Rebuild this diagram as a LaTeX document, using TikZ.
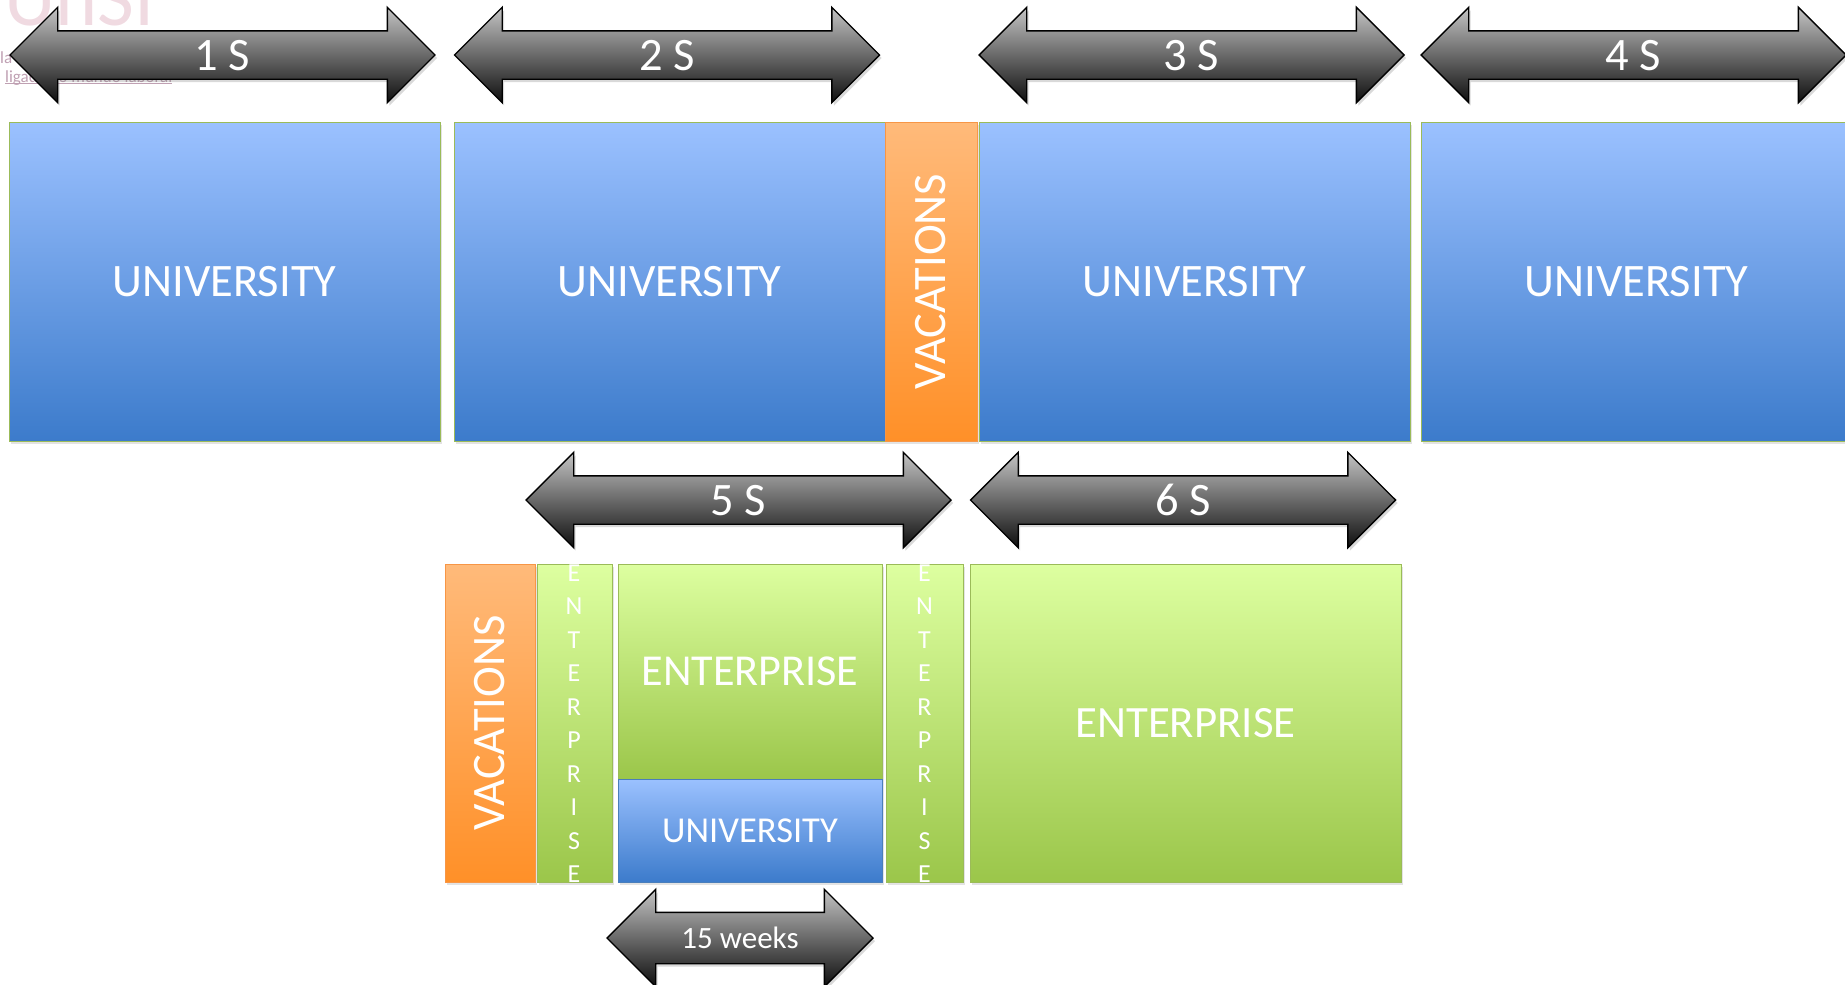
\documentclass[tikz,border=0pt]{standalone}
\usepackage{fontspec}
\setmainfont{Carlito}
\usetikzlibrary{shapes.arrows,shadows}
\definecolor{bluetop}{HTML}{9BC1FF}
\definecolor{bluebot}{HTML}{3C7BCB}
\definecolor{greentop}{HTML}{DDFFA0}
\definecolor{greenbot}{HTML}{9BC64A}
\definecolor{orangetop}{HTML}{FFBA7A}
\definecolor{orangebot}{HTML}{FF9028}
\definecolor{arrowtop}{HTML}{C4C4C4}
\definecolor{arrowbot}{HTML}{0E0E0E}
\definecolor{greenline}{HTML}{9BBB59}
\definecolor{blueline}{HTML}{4A7EBB}
\definecolor{orangeline}{HTML}{F79646}
\definecolor{logopink}{HTML}{F0DAE1}
\definecolor{logotext}{HTML}{BFA0B2}
\tikzset{
  boxbase/.style={rectangle, inner sep=0pt, text=white,
    drop shadow={opacity=0.22, shadow xshift=1.5pt, shadow yshift=-2.5pt}},
  ubox/.style={boxbase, top color=bluetop, bottom color=bluebot, draw=greenline, line width=1pt},
  usmall/.style={boxbase, top color=bluetop, bottom color=bluebot, draw=blueline, line width=1pt},
  gbox/.style={boxbase, top color=greentop, bottom color=greenbot, draw=greenline, line width=1pt},
  obox/.style={boxbase, top color=orangetop, bottom color=orangebot, draw=orangeline, line width=1pt},
  darrow/.style={double arrow, double arrow head extend=23.5pt, minimum height=425pt,
    text height=30pt, text depth=0pt, inner ysep=8.5pt, inner xsep=0pt,
    draw=black, line width=1.4pt, top color=arrowtop, bottom color=arrowbot, text=white,
    font=\fontsize{46.5}{50}\selectfont,
    drop shadow={opacity=0.3, shadow xshift=2pt, shadow yshift=-3pt}},
  bigtext/.style={text=white, font=\fontsize{46.5}{50}\selectfont},
  vlet/.style={text=white, align=center, inner sep=0pt, font=\fontsize{26}{33.5}\selectfont},
  logosmall/.style={anchor=base west, inner sep=0pt, text=logotext, font=\fontsize{17}{17}\selectfont},
}
\begin{document}
\begin{tikzpicture}[x=1pt, y=-1pt]
\useasboundingbox (0,0) rectangle (1845,985);
% faint logo in the corner
\node[anchor=base west, inner sep=0pt, text=logopink, font=\fontsize{80}{80}\selectfont] (logo) at (4,25) {UnSI};
\node[logosmall] (logoa) at (0,63) {la};
\node[logosmall] (logob) at (5,82) {ligado ao mundo laboral};
\draw[logotext, line width=0.7pt] (logob.south west) ++(0,-2) coordinate (ul1) -- (logob.south east |- ul1) coordinate (ul2);

% top boxes
\node[ubox, minimum width=431pt, minimum height=319pt] (u1) at (224.5,281.5) {};
\node[ubox, minimum width=431pt, minimum height=319pt] (u2) at (669.5,281.5) {};
\node[obox, minimum width=92pt, minimum height=319pt] (v1) at (931,281.5) {};
\node[ubox, minimum width=431pt, minimum height=319pt] (u3) at (1194.5,281.5) {};
\node[ubox, minimum width=431pt, minimum height=319pt] (u4) at (1636.5,281.5) {};
\node[bigtext] (tu1) at (u1) {UNIVERSITY};
\node[bigtext] (tu2) at (u2) {UNIVERSITY};
\node[bigtext, rotate=90] (tv1) at (v1) {VACATIONS};
\node[bigtext] (tu3) at (u3) {UNIVERSITY};
\node[bigtext] (tu4) at (u4) {UNIVERSITY};

% top arrows
\node[darrow] (a1) at (222.5,55) {1 S};
\node[darrow] (a2) at (667,55) {2 S};
\node[darrow] (a3) at (1191.5,55) {3 S};
\node[darrow] (a4) at (1633.5,55) {4 S};

% middle arrows
\node[darrow] (a5) at (738.5,500) {5 S};
\node[darrow] (a6) at (1183,500) {6 S};

% bottom boxes
\node[obox, minimum width=90pt, minimum height=318pt] (v2) at (490,723) {};
\node[gbox, minimum width=75pt, minimum height=318pt] (n1) at (574.5,723) {};
\node[gbox, minimum width=264pt, minimum height=215pt] (e1) at (750,671.5) {};
\node[usmall, minimum width=264pt, minimum height=103pt] (us) at (750,830.5) {};
\node[gbox, minimum width=77pt, minimum height=318pt] (n2) at (924.5,723) {};
\node[gbox, minimum width=431pt, minimum height=318pt] (e2) at (1185.5,723) {};
\node[bigtext, rotate=90] (tv2) at (v2) {VACATIONS};
\node[vlet] (tn1) at (574,723.5) {E\\N\\T\\E\\R\\P\\R\\I\\S\\E};
\node[vlet] (tn2) at (924.5,723.5) {E\\N\\T\\E\\R\\P\\R\\I\\S\\E};
\node[text=white, font=\fontsize{44.2}{48}\selectfont] (te1) at (e1) {ENTERPRISE};
\node[text=white, font=\fontsize{36.5}{40}\selectfont] (tus) at (us) {UNIVERSITY};
\node[text=white, font=\fontsize{44.8}{48}\selectfont] (te2) at (e2) {ENTERPRISE};

% weeks arrow
\node[darrow, minimum height=266pt, double arrow head extend=23pt, text height=20pt, inner ysep=15pt,
      font=\fontsize{31}{34}\selectfont] (aw) at (740,938) {15 weeks};
\end{tikzpicture}
\end{document}
